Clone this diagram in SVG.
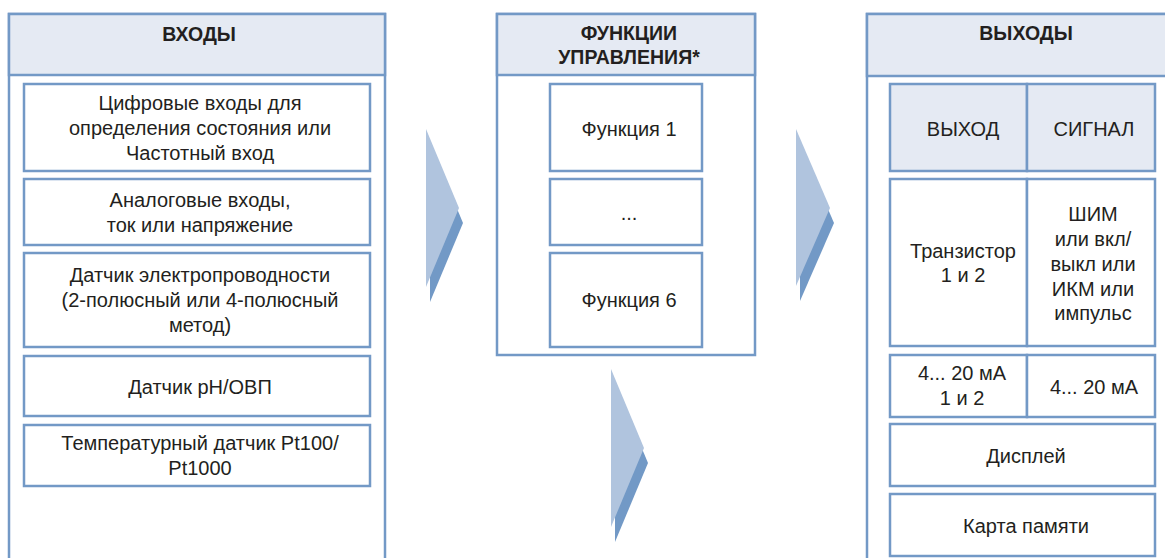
<svg xmlns="http://www.w3.org/2000/svg" width="1165" height="558" viewBox="0 0 1165 558">
<style>
.col{fill:#ffffff;stroke:#7399c6;stroke-width:2.5}
.hdr{fill:#e5eaf3;stroke:#7399c6;stroke-width:2.5}
.box{fill:#ffffff;stroke:#7399c6;stroke-width:2.5}
.hbox{fill:#e5eaf3;stroke:#7399c6;stroke-width:2.5}
.t{font-family:"Liberation Sans",Arial,sans-serif;font-size:20px;fill:#231f20;text-anchor:middle}
.b{font-family:"Liberation Sans",Arial,sans-serif;font-size:19.5px;font-weight:bold;fill:#231f20;text-anchor:middle}
.light{fill:#b0c4de}
.dark{fill:#7299c6}
</style>
<rect width="1165" height="558" fill="#ffffff"/>

<g id="inputs">
  <rect class="col" x="9" y="14" width="376" height="570"/>
  <rect class="hdr" x="9" y="14" width="376" height="61"/>
  <text class="b" x="199" y="41">ВХОДЫ</text>
</g>
<g id="in-digital">
  <rect class="box" x="24" y="84" width="346" height="87"/>
  <text class="t" x="200" y="110">Цифровые входы для</text>
  <text class="t" x="200" y="135">определения состояния или</text>
  <text class="t" x="200" y="160">Частотный вход</text>
</g>
<g id="in-analog">
  <rect class="box" x="24" y="179" width="346" height="66"/>
  <text class="t" x="200" y="207">Аналоговые входы,</text>
  <text class="t" x="200" y="232">ток или напряжение</text>
</g>
<g id="in-conductivity">
  <rect class="box" x="24" y="253" width="346" height="94"/>
  <text class="t" x="200" y="282">Датчик электропроводности</text>
  <text class="t" x="200" y="307">(2-полюсный или 4-полюсный</text>
  <text class="t" x="200" y="332">метод)</text>
</g>
<g id="in-ph">
  <rect class="box" x="24" y="356" width="346" height="60"/>
  <text class="t" x="200" y="394">Датчик pH/ОВП</text>
</g>
<g id="in-temp">
  <rect class="box" x="24" y="425" width="346" height="61"/>
  <text class="t" x="200" y="450">Температурный датчик Pt100/</text>
  <text class="t" x="200" y="475">Pt1000</text>
</g>

<g id="functions">
  <rect class="col" x="497" y="14" width="258" height="341"/>
  <rect class="hdr" x="497" y="14" width="258" height="61"/>
  <text class="b" x="629" y="40">ФУНКЦИИ</text>
  <text class="b" x="629" y="64">УПРАВЛЕНИЯ*</text>
</g>
<g id="fn-1">
  <rect class="box" x="550" y="84" width="152" height="87"/>
  <text class="t" x="629" y="136">Функция 1</text>
</g>
<g id="fn-dots">
  <rect class="box" x="550" y="179" width="152" height="66"/>
  <text class="t" x="629" y="220">...</text>
</g>
<g id="fn-6">
  <rect class="box" x="550" y="253" width="152" height="94"/>
  <text class="t" x="629" y="307">Функция 6</text>
</g>

<g id="outputs">
  <rect class="col" x="867" y="14" width="330" height="570"/>
  <rect class="hdr" x="867" y="14" width="330" height="62"/>
  <text class="b" x="1026" y="40">ВЫХОДЫ</text>
</g>
<g id="out-header">
  <rect class="hbox" x="890" y="84" width="137" height="87"/>
  <rect class="hbox" x="1027" y="84" width="128" height="87"/>
  <text class="t" x="963" y="136">ВЫХОД</text>
  <text class="t" x="1094" y="136">СИГНАЛ</text>
</g>
<g id="out-transistor">
  <rect class="box" x="890" y="179" width="137" height="167"/>
  <rect class="box" x="1027" y="179" width="128" height="167"/>
  <text class="t" x="963" y="258">Транзистор</text>
  <text class="t" x="963" y="282">1 и 2</text>
  <text class="t" x="1093" y="221">ШИМ</text>
  <text class="t" x="1093" y="246">или вкл/</text>
  <text class="t" x="1093" y="271">выкл или</text>
  <text class="t" x="1093" y="296">ИКМ или</text>
  <text class="t" x="1093" y="320">импульс</text>
</g>
<g id="out-analog">
  <rect class="box" x="890" y="355" width="137" height="62"/>
  <rect class="box" x="1027" y="355" width="128" height="62"/>
  <text class="t" x="962" y="380">4... 20 мА</text>
  <text class="t" x="962" y="405">1 и 2</text>
  <text class="t" x="1094" y="394">4... 20 мА</text>
</g>
<g id="out-display">
  <rect class="box" x="890" y="424" width="265" height="62"/>
  <text class="t" x="1026" y="463">Дисплей</text>
</g>
<g id="out-card">
  <rect class="box" x="890" y="494" width="265" height="62"/>
  <text class="t" x="1026" y="533">Карта памяти</text>
</g>

<g id="connectors">
  <polygon class="dark" points="430,144 463,223 430,302"/>
  <polygon class="light" points="426,129 459,208 426,287"/>
  <polygon class="dark" points="800,144 834,223 800,301"/>
  <polygon class="light" points="796,129 830,208 796,286"/>
  <polygon class="dark" points="615,384 648,463 615,542"/>
  <polygon class="light" points="611,369 644,448 611,527"/>
</g>
</svg>
